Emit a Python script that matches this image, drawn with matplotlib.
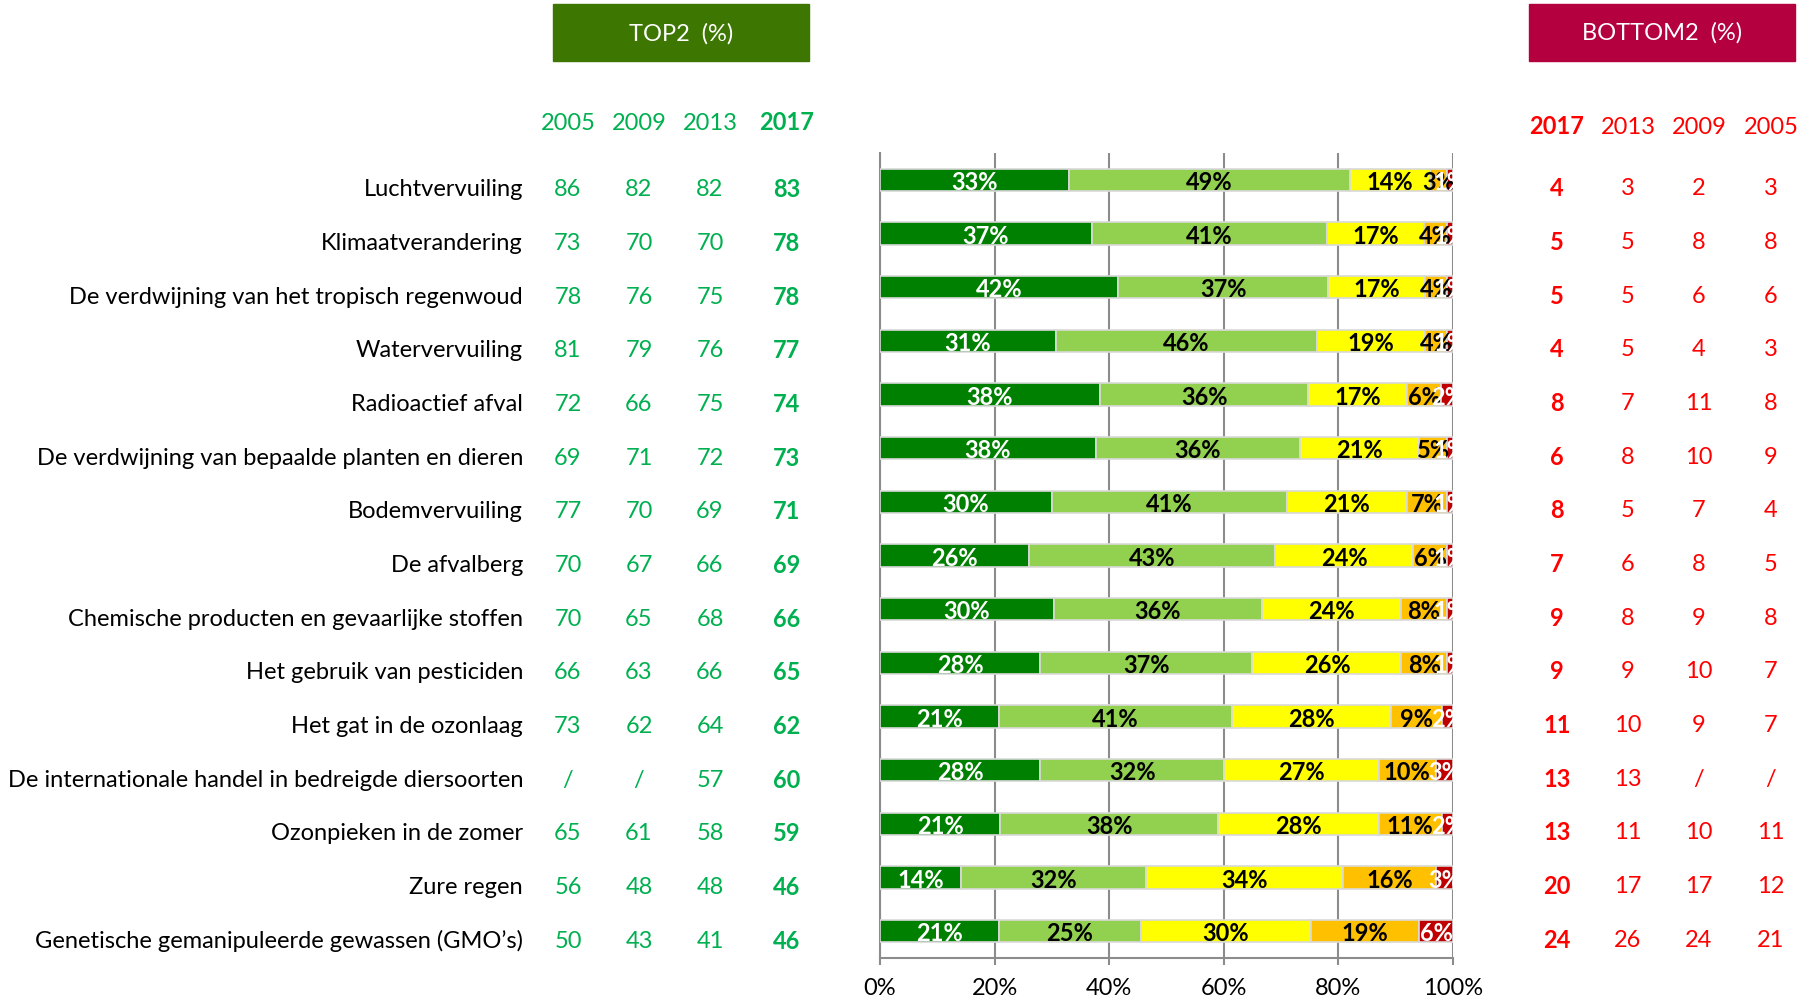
import matplotlib
matplotlib.use('Agg')
import matplotlib.pyplot as plt
import matplotlib.transforms as mtransforms
from matplotlib.patches import Rectangle
import numpy as np

plt.rcParams['font.family'] = ['Lato', 'DejaVu Sans']

categories = [
    'Luchtvervuiling',
    'Klimaatverandering',
    'De verdwijning van het tropisch regenwoud',
    'Watervervuiling',
    'Radioactief afval',
    'De verdwijning van bepaalde planten en dieren',
    'Bodemvervuiling',
    'De afvalberg',
    'Chemische producten en gevaarlijke stoffen',
    'Het gebruik van pesticiden',
    'Het gat in de ozonlaag',
    'De internationale handel in bedreigde diersoorten',
    'Ozonpieken in de zomer',
    'Zure regen',
    'Genetische gemanipuleerde gewassen (GMO\u2019s)',
]

# answer shares 2017, from most to least concerned
very = [33, 37, 42, 31, 38, 38, 30, 26, 30, 28, 21, 28, 21, 14, 21]
rather = [49, 41, 37, 46, 36, 36, 41, 43, 36, 37, 41, 32, 38, 32, 25]
neutral = [14, 17, 17, 19, 17, 21, 21, 24, 24, 26, 28, 27, 28, 34, 30]
little = [3, 4, 4, 4, 6, 5, 7, 6, 8, 8, 9, 10, 11, 16, 19]
none = [1, 1, 1, 1, 2, 1, 1, 1, 1, 1, 2, 3, 2, 3, 6]

top_years = ['2005', '2009', '2013', '2017']
top2 = [
    ['86', '82', '82', '83'],
    ['73', '70', '70', '78'],
    ['78', '76', '75', '78'],
    ['81', '79', '76', '77'],
    ['72', '66', '75', '74'],
    ['69', '71', '72', '73'],
    ['77', '70', '69', '71'],
    ['70', '67', '66', '69'],
    ['70', '65', '68', '66'],
    ['66', '63', '66', '65'],
    ['73', '62', '64', '62'],
    ['/', '/', '57', '60'],
    ['65', '61', '58', '59'],
    ['56', '48', '48', '46'],
    ['50', '43', '41', '46'],
]

bottom_years = ['2017', '2013', '2009', '2005']
bottom2 = [
    ['4', '3', '2', '3'],
    ['5', '5', '8', '8'],
    ['5', '5', '6', '6'],
    ['4', '5', '4', '3'],
    ['8', '7', '11', '8'],
    ['6', '8', '10', '9'],
    ['8', '5', '7', '4'],
    ['7', '6', '8', '5'],
    ['9', '8', '9', '8'],
    ['9', '9', '10', '7'],
    ['11', '10', '9', '7'],
    ['13', '13', '/', '/'],
    ['13', '11', '10', '11'],
    ['20', '17', '17', '12'],
    ['24', '26', '24', '21'],
]

colours = ['#008000', '#92D050', '#FFFF00', '#FFC000', '#C00000']
text_colours = ['white', 'black', 'black', 'black', 'white']

W, H = 1815, 1003
fs = 17

fig = plt.figure(figsize=(W / 100, H / 100), dpi=100)
ax = fig.add_axes([880 / W, 1 - 959 / H, (1453 - 880) / W, (959 - 154) / H])

series = np.array([very, rather, neutral, little, none], dtype=float)
shares = series / series.sum(axis=0)
y = np.arange(len(categories))
left = np.zeros(len(categories))
for k in range(len(series)):
    ax.barh(y, shares[k], left=left, height=0.41, color=colours[k],
            edgecolor='#D9D9D9', linewidth=1.2, zorder=3)
    for i in range(len(categories)):
        ax.text(left[i] + shares[k][i] / 2, y[i] + 0.03, '%d%%' % series[k][i],
                ha='center', va='center', fontsize=fs, fontweight='bold',
                color=text_colours[k], zorder=4, clip_on=True)
    left += shares[k]

ax.set_xlim(0, 1)
ax.set_ylim(len(categories) - 0.5, -0.5)
ax.set_xticks(np.linspace(0, 1, 6))
ax.set_xticklabels(['0%', '20%', '40%', '60%', '80%', '100%'], fontsize=fs)
ax.set_yticks([])
ax.grid(axis='x', color='#8C8C8C', linewidth=1.5, zorder=0)
for s in ['top', 'right']:
    ax.spines[s].set_visible(False)
ax.spines['left'].set_color('#8C8C8C')
ax.spines['left'].set_linewidth(1.5)
ax.spines['bottom'].set_color('#8C8C8C')
ax.spines['bottom'].set_linewidth(1.5)
ax.tick_params(axis='x', length=5, width=1.5, color='#8C8C8C', pad=9)

trans = mtransforms.blended_transform_factory(fig.transFigure, ax.transData)
for i, cat in enumerate(categories):
    ax.text(523 / W, i + 0.17, cat, transform=trans, ha='right', va='center',
            fontsize=fs, color='black')

top_x = [568, 639, 710, 787]
bottom_x = [1557, 1628, 1699, 1771]
for j in range(4):
    bold = 'bold' if j == 3 else 'normal'
    fig.text(top_x[j] / W, 1 - 123 / H, top_years[j], ha='center', va='center',
             fontsize=fs, color='#00B050', fontweight=bold)
    bold = 'bold' if j == 0 else 'normal'
    fig.text(bottom_x[j] / W, 1 - 127 / H, bottom_years[j], ha='center', va='center',
             fontsize=fs, color='#FF0000', fontweight=bold)
    for i in range(len(categories)):
        ax.text(top_x[j] / W, i + 0.17, top2[i][j], transform=trans, ha='center',
                va='center', fontsize=fs, color='#00B050',
                fontweight='bold' if j == 3 else 'normal')
        ax.text(bottom_x[j] / W, i + 0.15, bottom2[i][j], transform=trans, ha='center',
                va='center', fontsize=fs, color='#FF0000',
                fontweight='bold' if j == 0 else 'normal')

# header boxes
fig.add_artist(Rectangle((553 / W, 1 - 62 / H), (809 - 553) / W, 57 / H,
                         transform=fig.transFigure, color='#3D7600'))
fig.text(681 / W, 1 - 34 / H, 'TOP2  (%)', ha='center', va='center',
         fontsize=fs, color='white')
fig.add_artist(Rectangle((1529 / W, 1 - 62 / H), (1795 - 1529) / W, 57 / H,
                         transform=fig.transFigure, color='#B5003F'))
fig.text(1662 / W, 1 - 33 / H, 'BOTTOM2  (%)', ha='center', va='center',
         fontsize=fs, color='white')

fig.savefig('out.png', dpi=100)
